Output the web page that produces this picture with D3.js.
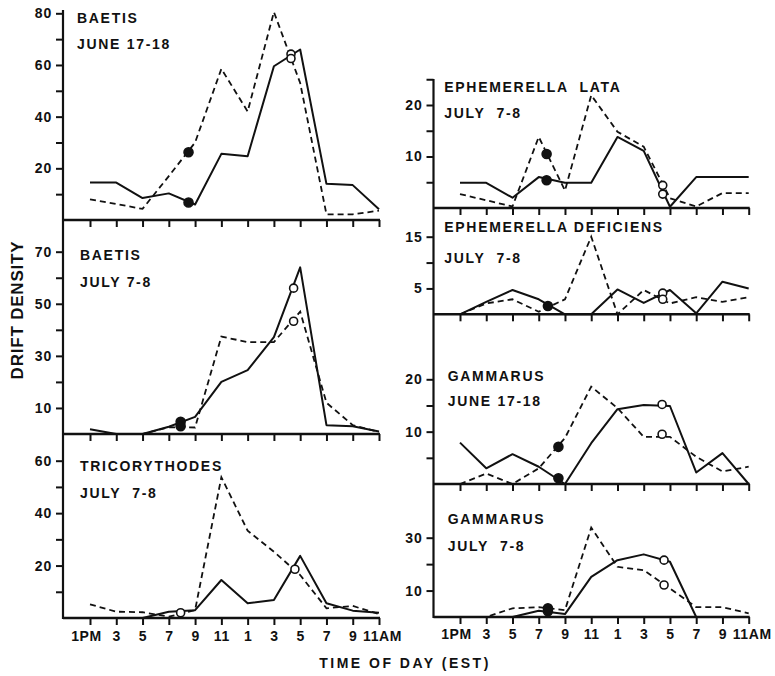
<!DOCTYPE html>
<html><head><meta charset="utf-8">
<script src="https://cdn.jsdelivr.net/npm/d3@7"></script>
<style>
body{margin:0;background:#fff}
text{font-family:"Liberation Sans",Arial,Helvetica,sans-serif;font-weight:bold;fill:#111}
</style>
</head><body>
<svg id="c" width="775" height="676"></svg>
<script>
// ---------- data ----------
const hours = [13,15,17,19,21,23,25,27,29,31,33,35];
const hourLabels = ["1PM","3","5","7","9","11","1","3","5","7","9","11AM"];

const baetisJuneSolid  = [14.5,14.5,8.5,10.3,6,25.6,24.7,59.5,66,14,13.5,4.2];
const baetisJuneDashed = [8,6.2,4.3,17,30,58.5,42,80.5,53,2.2,2.2,3.6];
const baetisJuneMarkers = [[20.5,6.8,1],[20.5,26.2,1],[28.3,64.2,0],[28.3,62.5,0]];

const baetisJulySolid  = [1.8,0,0,2.8,6.6,20,24.5,37.2,64,3.4,3,1];
const baetisJulyDashed = [0,0,0,2.6,2.5,37.4,35.3,35.3,47,12,3.4,0.8];
const baetisJulyMarkers = [[19.9,4.7,1],[19.9,3,1],[28.5,56,0],[28.5,43.3,0]];

const tricoSolid  = [0,0,0,2.4,3,14.5,5.6,6.9,23.7,5.6,2.8,2];
const tricoDashed = [5.2,2.4,2.2,0.5,3,53.7,33.3,25.3,16.4,3.7,4.6,1.5];
const tricoMarkers = [[19.9,2,0],[28.6,18.6,0]];

const lataSolid  = [4.9,4.9,2.0,6.0,4.9,4.9,13.8,11.1,0.25,6,6,6];
const lataDashed = [2.7,1.5,0.3,13.8,3.4,21.9,14.8,11.9,1.9,0.3,2.9,2.9];
const lataMarkers = [[19.6,5.4,1],[19.6,10.5,1],[28.45,4.4,0],[28.45,2.7,0]];

const deficiensSolid  = [0,2.4,4.7,2.9,0,0,4.8,2.2,4.7,0.2,6.3,5.0];
const deficiensDashed = [0,2.1,2.9,0.5,2.9,15,0,4.7,2.1,3.3,2.4,3.3];
const deficiensMarkers = [[19.7,1.6,1],[28.45,4.1,0],[28.45,2.9,0]];

const gammJuneSolid  = [7.9,3.0,5.7,3.3,0,7.8,14.3,15.1,14.9,2.2,5.9,0];
const gammJuneDashed = [0,2.0,0,3.0,8.8,18.6,14.5,9.0,9.0,5.2,2.4,3.3];
const gammJuneMarkers = [[20.5,1.1,1],[20.5,7.1,1],[28.4,15.2,0],[28.4,9.5,0]];

const gammJulySolid  = [0,0,0,2.4,1.1,15.2,21.5,23.7,20.9,0,0,0];
const gammJulyDashed = [0,0,3.3,3.7,2.6,33.8,19,17.7,10.8,3.7,3.7,1.4];
const gammJulyMarkers = [[19.7,3.3,1],[19.7,2.2,1],[28.55,21.5,0],[28.55,12.1,0]];

const titles = [
  ["BAETIS","JUNE 17-18"],
  ["BAETIS","JULY 7-8"],
  ["TRICORYTHODES","JULY  7-8"],
  ["EPHEMERELLA  LATA","JULY  7-8"],
  ["EPHEMERELLA DEFICIENS","JULY  7-8"],
  ["GAMMARUS","JUNE 17-18"],
  ["GAMMARUS","JULY  7-8"]
];
const yTicks = [[10,20,30,40,50,60,70,80],[10,20,30,40,50,60,70],[10,20,30,40,50,60],
                [5,10,15,20,25],[5,10,15],[5,10,15,20],[10,20,30]];
const yLabels = [[20,40,60,80],[10,30,50,70],[20,40,60],[10,20],[5,15],[10,20],[10,30]];
const yRefValue = [80,70,60,20,15,20,30];
const yAxisTitle = "DRIFT DENSITY";
const xAxisTitle = "TIME OF DAY (EST)";

// ---------- layout ----------
const cols = {
  L:{axisX:63, x0:90, x1:379, top:10, bottom:619, labelY:641},
  R:{axisX:433.5, x0:460, x1:748.7, top:79, bottom:618, labelY:639}
};
const panels = [
  {col:"L", base:220, refY:13.3, tx:77,  ty:[22.7,49.3], s:baetisJuneSolid, d:baetisJuneDashed, m:baetisJuneMarkers},
  {col:"L", base:434, refY:251.7, tx:80, ty:[260,286.7], s:baetisJulySolid, d:baetisJulyDashed, m:baetisJulyMarkers},
  {col:"L", base:618, refY:460.7, tx:80, ty:[470.7,497.7], s:tricoSolid, d:tricoDashed, m:tricoMarkers, bottom:true},
  {col:"R", base:208, refY:105, tx:444.3, ty:[91.7,118.3], s:lataSolid, d:lataDashed, m:lataMarkers},
  {col:"R", base:314.3, refY:236.7, tx:444.3, ty:[231.7,263.3], s:deficiensSolid, d:deficiensDashed, m:deficiensMarkers},
  {col:"R", base:484, refY:379.3, tx:447.7, ty:[381,406], s:gammJuneSolid, d:gammJuneDashed, m:gammJuneMarkers},
  {col:"R", base:617, refY:537.7, tx:447.7, ty:[524.3,551], s:gammJulySolid, d:gammJulyDashed, m:gammJulyMarkers, bottom:true}
];

const svg = d3.select("#c");
const ink = "#111";

// vertical axis lines
Object.values(cols).forEach(c=>{
  svg.append("line").attr("x1",c.axisX).attr("x2",c.axisX).attr("y1",c.top).attr("y2",c.bottom)
    .attr("stroke",ink).attr("stroke-width",2.2);
});

panels.forEach((p,i)=>{
  const c = cols[p.col];
  const x = d3.scaleLinear().domain([13,35]).range([c.x0,c.x1]);
  const y = d3.scaleLinear().domain([0,yRefValue[i]]).range([p.base,p.refY]);
  const g = svg.append("g");

  // baseline
  g.append("line").attr("x1",c.axisX).attr("x2",c.x1+1).attr("y1",p.base).attr("y2",p.base)
    .attr("stroke",ink).attr("stroke-width",2.4);

  // x ticks
  const xa = d3.axisBottom(x).tickValues(hours).tickSize(7).tickPadding(9)
    .tickFormat((d,k)=> p.bottom ? hourLabels[k] : "");
  const xg = g.append("g").attr("transform",`translate(0,${p.base})`).call(xa);
  xg.select(".domain").remove();
  xg.selectAll(".tick line").attr("stroke",ink).attr("stroke-width",2);
  xg.selectAll(".tick text").attr("font-size",14).attr("fill",ink).attr("letter-spacing",0.6)
    .attr("dy",null).attr("y",c.labelY - p.base).attr("dominant-baseline",null)
    .attr("dx",(d,k)=> k===0 ? -4 : (k===11 ? 3 : 0));

  // y ticks
  const ya = d3.axisLeft(y).tickValues(yTicks[i]).tickSize(7).tickPadding(4)
    .tickFormat(d=> yLabels[i].includes(d) ? d : "");
  const yg = g.append("g").attr("transform",`translate(${c.axisX},0)`).call(ya);
  yg.select(".domain").remove();
  yg.selectAll(".tick line").attr("stroke",ink).attr("stroke-width",2);
  yg.selectAll(".tick text").attr("font-size",14).attr("fill",ink).attr("letter-spacing",0.8);

  // lines
  const line = d3.line().x((v,k)=>x(hours[k])).y(v=>y(v));
  g.append("path").attr("d",line(p.s)).attr("fill","none").attr("stroke",ink)
    .attr("stroke-width",2).attr("stroke-linejoin","round");
  g.append("path").attr("d",line(p.d)).attr("fill","none").attr("stroke",ink)
    .attr("stroke-width",1.8).attr("stroke-dasharray","6,4");

  // markers
  g.selectAll("circle.m").data(p.m).enter().append("circle")
    .attr("cx",d=>x(d[0])).attr("cy",d=>y(d[1])).attr("r",d=>d[2]?4.5:4)
    .attr("fill",d=>d[2]?ink:"#fff").attr("stroke",ink).attr("stroke-width",1.6);

  // titles
  titles[i].forEach((t,k)=>{
    g.append("text").attr("x",p.tx).attr("y",p.ty[k]).attr("font-size",14)
      .attr("letter-spacing",1.7).style("white-space","pre").text(t);
  });
});

// axis titles
svg.append("text").attr("transform","translate(23,310) rotate(-90)").attr("text-anchor","middle")
  .attr("font-size",17).attr("letter-spacing",0.8).text(yAxisTitle);
svg.append("text").attr("x",405).attr("y",668).attr("text-anchor","middle")
  .attr("font-size",14).attr("letter-spacing",2.5).text(xAxisTitle);
</script>
</body></html>
